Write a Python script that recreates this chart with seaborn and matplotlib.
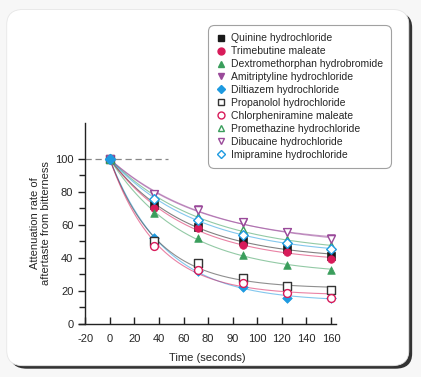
import numpy as np
import pandas as pd
import matplotlib.pyplot as plt
import seaborn as sns
from matplotlib.lines import Line2D
from matplotlib.patches import FancyBboxPatch

# time points (axis positions) and attenuation values
times = [0, 36, 72, 108, 144, 180]
xtick_pos = [-20, 0, 20, 40, 60, 80, 100, 120, 140, 160, 180]
xtick_labels = ["-20", "0", "20", "40", "60", "80", "90", "100", "120", "140", "160"]

names = ["Quinine hydrochloride", "Trimebutine maleate", "Dextromethorphan hydrobromide",
         "Amitriptyline hydrochloride", "Diltiazem hydrochloride", "Propanolol hydrochloride",
         "Chlorpheniramine maleate", "Promethazine hydrochloride", "Dibucaine hydrochloride",
         "Imipramine hydrochloride"]

quinine = [100, 72, 59, 50.5, 45.5, 41.5]
trimebutine = [100, 70.5, 58, 48, 43.5, 39.5]
dextro = [100, 67, 52, 42, 35.5, 33]
amitriptyline = [100, 78, 69.5, 61.5, 56, 52]
diltiazem = [100, 52, 32, 22.5, 16, 15.5]
propanolol = [100, 50, 37, 28, 23, 20.5]
chlorphen = [100, 47.5, 33, 25, 19, 16]
promethazine = [100, 77, 65, 57, 51, 47]
dibucaine = [100, 79, 69, 62, 55.5, 51.5]
imipramine = [100, 76, 63, 54, 49, 45.5]

series = [quinine, trimebutine, dextro, amitriptyline, diltiazem,
          propanolol, chlorphen, promethazine, dibucaine, imipramine]
colors = ["#1a1a1a", "#d81b5a", "#3a9e5c", "#9a4a9a", "#1e9ae0",
          "#333333", "#d81b5a", "#3a9e5c", "#9a4a9a", "#1e9ae0"]
markers = ["s", "o", "^", "v", "D", "s", "o", "^", "v", "D"]
filled = [True] * 5 + [False] * 5


def fit_decay(t, y):
    # y = a + (100 - a) * exp(-k t), least squares on a for a grid of k
    t = np.asarray(t, float)
    y = np.asarray(y, float)
    best = None
    for k in np.linspace(0.002, 0.12, 1200):
        e = np.exp(-k * t)
        a = np.sum((y - 100 * e) * (1 - e)) / np.sum((1 - e) ** 2)
        err = np.sum((a + (100 - a) * e - y) ** 2)
        if best is None or err < best[0]:
            best = (err, a, k)
    return best[1], best[2]


sns.set_style("ticks")
plt.rcParams["font.family"] = ["Liberation Sans", "DejaVu Sans"]

fig = plt.figure(figsize=(4.21, 3.77), dpi=100)
fig.patch.set_facecolor("#f7f7f7")

# card with shadow
fig.patches.append(FancyBboxPatch((0.024, 0.022), 0.955, 0.945, transform=fig.transFigure,
                                  boxstyle="round,pad=0,rounding_size=0.04",
                                  facecolor="#333333", edgecolor="none", zorder=-3))
fig.patches.append(FancyBboxPatch((0.016, 0.030), 0.955, 0.945, transform=fig.transFigure,
                                  boxstyle="round,pad=0,rounding_size=0.04",
                                  facecolor="white", edgecolor="#e6e6e6", lw=0.6, zorder=-2))

ax = fig.add_axes([0.1876, 0.1406, 0.6105, 0.534])
ax.set_facecolor("none")
ax.set_zorder(1)

tt = np.linspace(0, 180, 200)
for i, (name, ys) in enumerate(zip(names, series)):
    a, k = fit_decay(times, ys)
    curve = pd.DataFrame({"t": tt, "y": a + (100 - a) * np.exp(-k * tt)})
    sns.lineplot(data=curve, x="t", y="y", ax=ax, color=colors[i], lw=0.8, alpha=0.55, zorder=2)

for i, (name, ys) in enumerate(zip(names, series)):
    pts = pd.DataFrame({"t": times, "y": ys})
    if filled[i]:
        sns.scatterplot(data=pts, x="t", y="y", ax=ax, marker=markers[i], color=colors[i],
                        edgecolor=colors[i], s=30 if markers[i] != "D" else 24, linewidth=0.5, zorder=3)
    else:
        sns.scatterplot(data=pts, x="t", y="y", ax=ax, marker=markers[i], facecolor="white",
                        edgecolor=colors[i], s=32 if markers[i] != "D" else 24, linewidth=1.0, zorder=3)

# start point on top
sns.scatterplot(x=[times[0]], y=[diltiazem[0]], ax=ax, marker="D", color="#1e9ae0",
                edgecolor="#1e9ae0", s=30, zorder=5)

ax.hlines(100, -20, 47, colors="#888888", linestyles=(0, (5, 3)), lw=0.9, zorder=1)

ax.set_xlim(-25, 184)
ax.set_ylim(0, 122)
ax.spines["left"].set_position(("data", -20))
ax.spines["left"].set_bounds(0, 122)
sns.despine(ax=ax)
for s in ["left", "bottom"]:
    ax.spines[s].set_linewidth(1.0)
    ax.spines[s].set_color("#222222")

ax.set_xticks(xtick_pos)
ax.set_xticklabels(xtick_labels)
ax.set_yticks([0, 20, 40, 60, 80, 100])
ax.set_yticks(np.arange(10, 101, 20), minor=True)
ax.tick_params(axis="x", direction="in", length=5, width=1, labelsize=8, pad=7, color="#222222")
ax.tick_params(axis="y", which="major", direction="out", length=5, width=1, labelsize=8, color="#222222")
ax.tick_params(axis="y", which="minor", direction="out", length=4, width=1, color="#222222")

ax.set_xlabel("Time (seconds)", fontsize=8, labelpad=7)
ax.set_ylabel("Attenuation rate of\naftertaste from bitterness", fontsize=8, labelpad=3, linespacing=1.05)

handles = []
for i, name in enumerate(names):
    handles.append(Line2D([], [], ls="none", marker=markers[i], markersize=5 if markers[i] != "D" else 4,
                          color=colors[i], markerfacecolor=colors[i] if filled[i] else "white",
                          markeredgecolor=colors[i], markeredgewidth=1.0, label=name))
leg = fig.legend(handles=handles, loc="upper left", bbox_to_anchor=(208 / 421, 1 - 25 / 377),
                 fontsize=7.5, frameon=True, fancybox=True, edgecolor="#8a8a8a",
                 handlelength=0.8, handletextpad=0.6, labelspacing=0.28, borderpad=0.8,
                 borderaxespad=0)
leg.get_frame().set_linewidth(0.8)
leg.get_frame().set_boxstyle("round,pad=0,rounding_size=0.6")

fig.savefig("out.png", dpi=100)
